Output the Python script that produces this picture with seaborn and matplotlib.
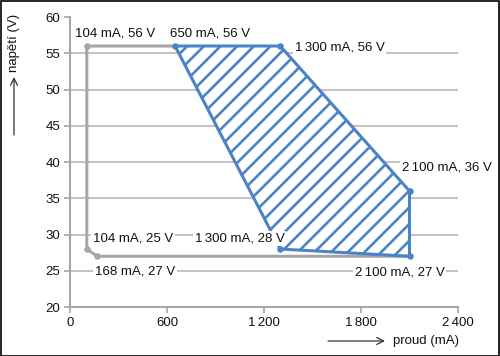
import numpy as np
import matplotlib
matplotlib.use('Agg')
import matplotlib.pyplot as plt
import seaborn as sns
from matplotlib.patches import Rectangle

sns.set_style('white')
plt.rcParams['font.family'] = ['Liberation Sans', 'DejaVu Sans']
plt.rcParams['hatch.linewidth'] = 1.9

# ── data ─────────────────────────────────────────────────────────────────────
gray_x = [650, 104, 104, 168, 2100]
gray_y = [56, 56, 28, 27, 27]
gray_pts_x = [104, 104, 168]
gray_pts_y = [56, 28, 27]

blue_x = [650, 1300, 2100, 2100, 1300, 650]
blue_y = [56, 56, 36, 27, 28, 56]

SP = '\u2006'
labels = ['104 mA, 56 V', '650 mA, 56 V', f'1{SP}300 mA, 56 V', f'2{SP}100 mA, 36 V',
          '104 mA, 25 V', f'1{SP}300 mA, 28 V', '168 mA, 27 V', f'2{SP}100 mA, 27 V']
label_x = [31, 618, 1392, 2053, 142, 773, 155, 1763]
label_y = [57.7, 57.7, 55.8, 39.3, 29.4, 29.4, 24.9, 24.8]

x_ticks = [0, 600, 1200, 1800, 2400]
x_tick_labels = ['0', '600', f'1{SP}200', f'1{SP}800', f'2{SP}400']
y_ticks = [20, 25, 30, 35, 40, 45, 50, 55, 60]

BLUE = '#4a84c4'
GRAY = '#a6a6a6'
GRID = '#c4c4c4'
TXT = '#111111'

fig = plt.figure(figsize=(5.0, 3.56), dpi=100)
ax = fig.add_axes([0.14, 0.1376, 0.776, 0.8146])

# horizontal grid lines (not at 20 / 60)
ax.hlines(y_ticks[1:-1], 0, 2400, color=GRID, linewidth=1.5, zorder=1)

# hatched region
ax.fill(blue_x, blue_y, facecolor='white', edgecolor=BLUE, hatch='//',
        linewidth=0, zorder=2)

sns.lineplot(x=gray_x, y=gray_y, sort=False, estimator=None, color=GRAY,
             linewidth=2.2, ax=ax, zorder=3)
sns.scatterplot(x=gray_pts_x, y=gray_pts_y, color=GRAY, s=22, linewidth=0,
                ax=ax, zorder=4)
sns.lineplot(x=blue_x, y=blue_y, sort=False, estimator=None, color=BLUE,
             linewidth=2.2, ax=ax, zorder=5)
sns.scatterplot(x=blue_x[:-1], y=blue_y[:-1], color=BLUE, s=22, linewidth=0,
                ax=ax, zorder=6)

for t, lx, ly in zip(labels, label_x, label_y):
    ax.text(lx, ly, t, ha='left', va='center', fontsize=9.5, color=TXT,
            zorder=7, bbox=dict(boxstyle='square,pad=0.12', facecolor='white',
                                edgecolor='none'))

ax.set_xlim(0, 2400)
ax.set_ylim(20, 60)
ax.set_xticks(x_ticks)
ax.set_xticklabels(x_tick_labels)
ax.set_yticks(y_ticks)
for s in ['top', 'right']:
    ax.spines[s].set_visible(False)
for s in ['left', 'bottom']:
    ax.spines[s].set_color(GRAY)
    ax.spines[s].set_linewidth(1.5)
ax.tick_params(axis='both', direction='out', length=4, width=1.2,
               color=GRAY, labelsize=9.5, labelcolor=TXT, pad=3,
               left=True, bottom=True)
ax.set_xlabel('')
ax.set_ylabel('')

# axis labels with arrows
arrow = dict(arrowstyle='->,head_length=0.5,head_width=0.25', color='#333333',
             linewidth=0.9, shrinkA=0, shrinkB=0)
fig.text(393 / 500, 1 - 341 / 356, 'proud (mA)', ha='left', va='center',
         fontsize=9.5, color=TXT)
ax.annotate('', xy=(385 / 500, 1 - 341 / 356), xytext=(328 / 500, 1 - 341 / 356),
            xycoords='figure fraction', textcoords='figure fraction',
            arrowprops=arrow, annotation_clip=False)
fig.text(14 / 500, 1 - 43 / 356, 'napětí (V)', ha='center', va='center',
         rotation=90, fontsize=9.5, color=TXT)
ax.annotate('', xy=(14 / 500, 1 - 77 / 356), xytext=(14 / 500, 1 - 135 / 356),
            xycoords='figure fraction', textcoords='figure fraction',
            arrowprops=arrow, annotation_clip=False)

# black frame round the picture
fig.patches.append(Rectangle((0.001, 0.001), 0.997, 0.996, transform=fig.transFigure,
                             fill=False, edgecolor='black', linewidth=1.2))

fig.savefig('out.png', dpi=100)
